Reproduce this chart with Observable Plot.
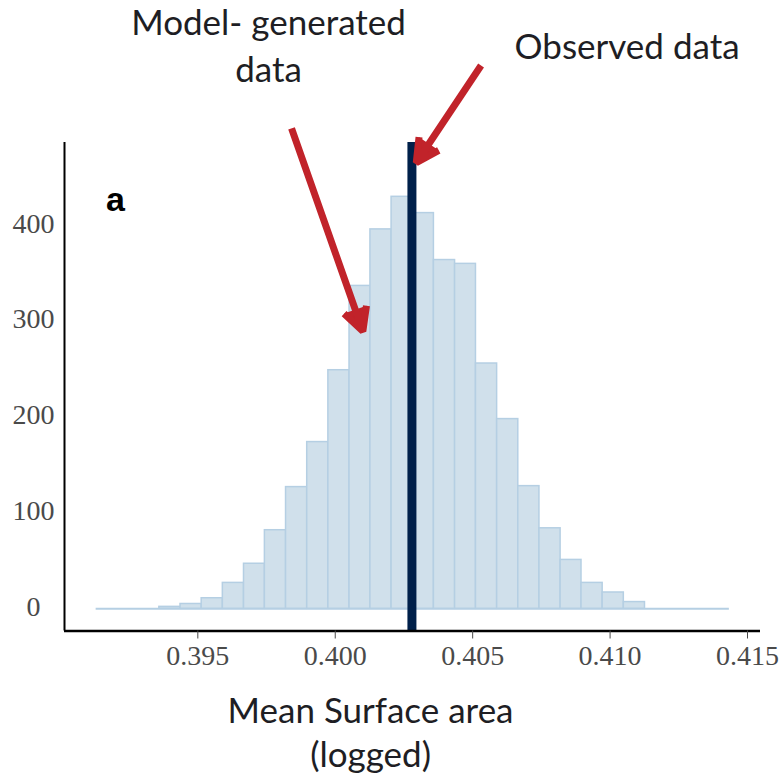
<!DOCTYPE html>
<html>
<head>
<meta charset="utf-8">
<script src="https://cdn.jsdelivr.net/npm/d3@7"></script>
<script src="https://cdn.jsdelivr.net/npm/@observablehq/plot@0.6"></script>
<style>
  html, body { margin: 0; padding: 0; background: #fff; }
  #chart svg { display: block; }
</style>
</head>
<body>
<div id="chart"></div>
<script>
// Histogram bin edges (Mean Surface area, logged) and counts of model-generated data
const binEdges = [0.39130, 0.39207, 0.39284, 0.39360, 0.39437, 0.39514, 0.39591, 0.39668,
  0.39744, 0.39821, 0.39898, 0.39975, 0.40052, 0.40128, 0.40205, 0.40282, 0.40359, 0.40436,
  0.40512, 0.40589, 0.40666, 0.40743, 0.40820, 0.40896, 0.40973, 0.41050, 0.41127, 0.41204,
  0.41280, 0.41357, 0.41434];
const binCounts = [0, 0, 0, 2, 5, 11, 27, 47, 82, 127, 174, 249, 337, 396, 430, 413, 364, 360,
  256, 198, 128, 84, 51, 27, 17, 7, 0, 0, 0, 0];
const observedValue = [0.40279];

const xTicks = [0.395, 0.400, 0.405, 0.410, 0.415];
const yTicks = [0, 100, 200, 300, 400];
const xDomain = [0.390149, 0.415473];
const yDomain = [-23.2, 486.7];

// Annotations (in data units)
const labelTexts = ["Model- generated\ndata", "Observed data"];
const labelX = [0.397573, 0.410619];
const labelY = [590, 590];
const arrowStartX = [0.39841, 0.405306];
const arrowStartY = [501.4, 567.1];
const arrowEndX = [0.401004, 0.402948];
const arrowEndY = [289.8, 465.6];
const panelLetter = [{text: "a", x: 0.392005, y: 426.2}];
const xTitle = [{text: "Mean Surface area\n(logged)", x: 0.401285, y: -127.5}];

const bins = binCounts.map((c, i) => ({x1: binEdges[i], x2: binEdges[i + 1], count: c}));
const labels = labelTexts.map((t, i) => ({text: t, x: labelX[i], y: labelY[i]}));
const arrows = arrowStartX.map((x, i) => ({x1: x, y1: arrowStartY[i], x2: arrowEndX[i], y2: arrowEndY[i]}));

const red = "#c1232a";
const annFont = "Lato, 'Open Sans', sans-serif";

const chart = Plot.plot({
  width: 782,
  height: 779,
  marginLeft: 64,
  marginRight: 22,
  marginTop: 142,
  marginBottom: 148.5,
  style: {background: "#fff", overflow: "visible"},
  x: {domain: xDomain, ticks: xTicks, label: null},
  y: {domain: yDomain, ticks: yTicks, label: null},
  marks: [
    Plot.ruleY([0], {x1: binEdges[0], x2: binEdges[binEdges.length - 1], stroke: "#b5cfe3", strokeWidth: 2}),
    Plot.rectY(bins, {x1: "x1", x2: "x2", y: "count", fill: "#d0e0eb", stroke: "#b5cfe3", strokeWidth: 1.5}),
    Plot.ruleX(observedValue, {stroke: "#00204a", strokeWidth: 9}),
    Plot.ruleX([xDomain[0]], {stroke: "#000", strokeWidth: 2}),
    Plot.ruleY([yDomain[0]], {stroke: "#000", strokeWidth: 2.5}),
    Plot.axisX({ticks: xTicks, tickFormat: d3.format(".3f"), tickSize: 8, tickPadding: 6,
      fontSize: 28, fontFamily: "'Liberation Serif', 'DejaVu Serif', serif", color: "#4a4a4a", label: null}),
    Plot.axisY({ticks: yTicks, tickSize: 0, tickPadding: 31, textAnchor: "middle", dy: -2,
      fontSize: 28, fontFamily: "'Liberation Serif', 'DejaVu Serif', serif", color: "#4a4a4a", label: null}),
    Plot.arrow(arrows, {x1: "x1", y1: "y1", x2: "x2", y2: "y2", stroke: red, fill: red,
      strokeWidth: 7, headLength: 5.5, headAngle: 55, strokeLinecap: "butt"}),
    Plot.text(labels, {x: "x", y: "y", text: "text", fontSize: 35, fontFamily: annFont,
      fill: "#1e1e24", lineHeight: 1.34}),
    Plot.text(xTitle, {x: "x", y: "y", text: "text", fontSize: 35, fontFamily: annFont,
      fill: "#1e1e24", lineHeight: 1.27}),
    Plot.text(panelLetter, {x: "x", y: "y", text: "text", fontSize: 34, fontWeight: "bold",
      fontFamily: "'Liberation Sans', Arial, sans-serif", fill: "#000"})
  ]
});

document.getElementById("chart").appendChild(chart);
</script>
</body>
</html>
